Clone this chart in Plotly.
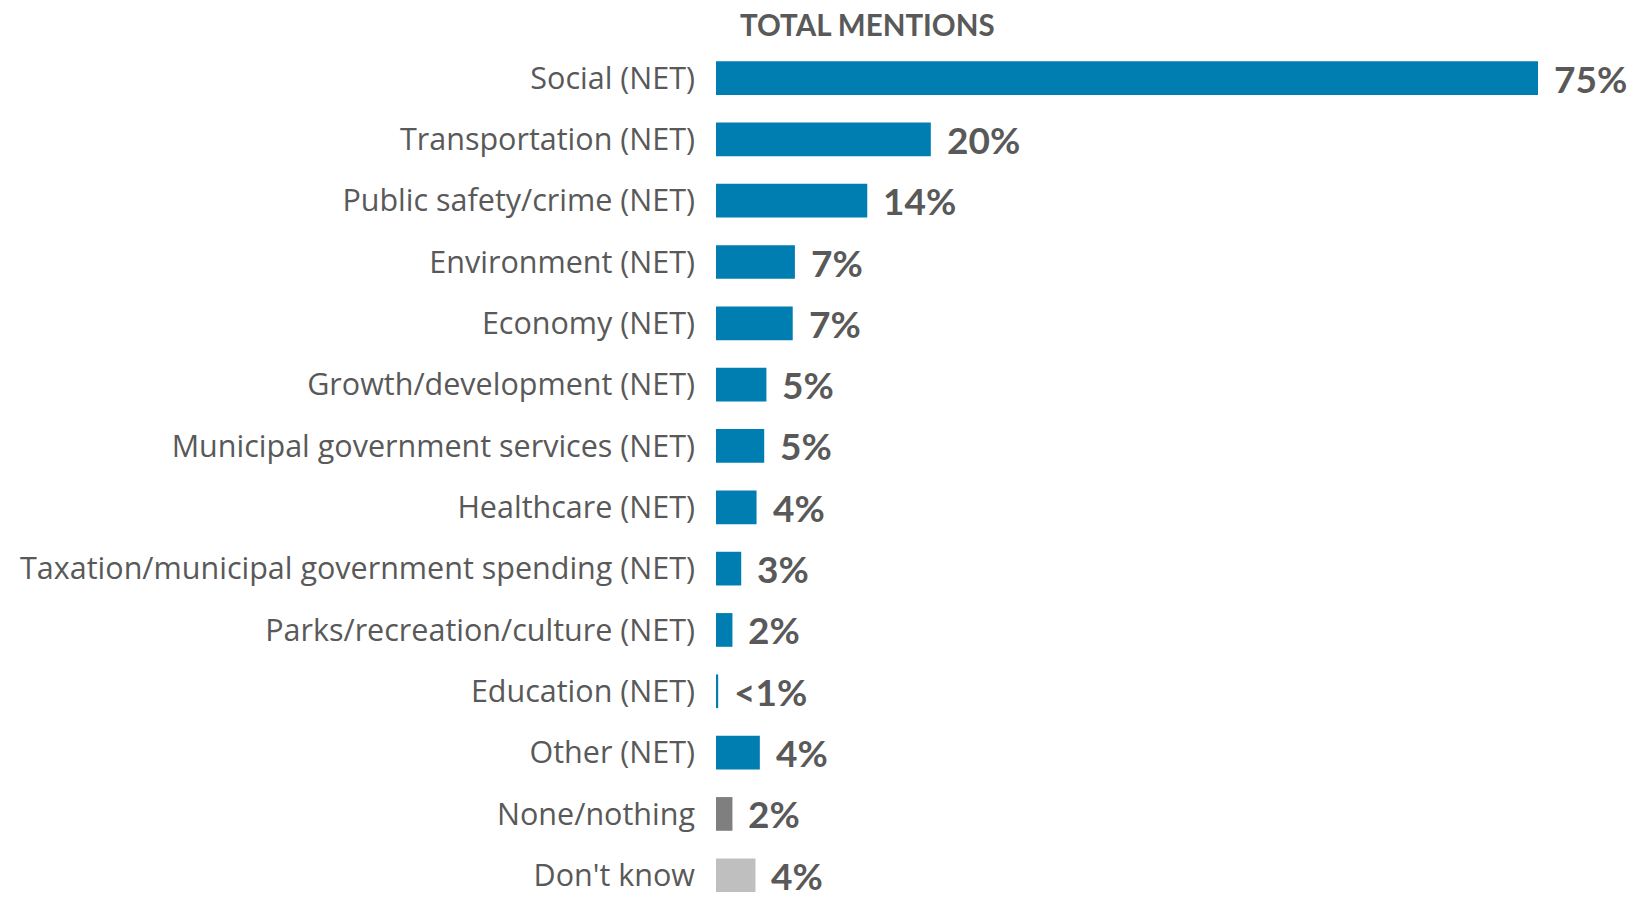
import plotly.graph_objects as go

categories = [
    "Social (NET)",
    "Transportation (NET)",
    "Public safety/crime (NET)",
    "Environment (NET)",
    "Economy (NET)",
    "Growth/development (NET)",
    "Municipal government services (NET)",
    "Healthcare (NET)",
    "Taxation/municipal government spending (NET)",
    "Parks/recreation/culture (NET)",
    "Education (NET)",
    "Other (NET)",
    "None/nothing",
    "Don't know",
]
values = [75.0, 19.6, 13.8, 7.2, 7.0, 4.6, 4.4, 3.7, 2.3, 1.5, 0.2, 4.0, 1.5, 3.6]
value_labels = ["75%", "20%", "14%", "7%", "7%", "5%", "5%", "4%", "3%", "2%", "<1%", "4%", "2%", "4%"]
bar_colors = ["#007EB2"] * 12 + ["#7F7F7F", "#BFBFBF"]

LABEL_FONT = "Open Sans"
VALUE_FONT = "Lato"
TEXT_COLOR = "#595959"

# page body has an 8px default margin; work in page coordinates minus 8
OFF = 8
W, H = 1651 - OFF, 901 - OFF
L, T = 716 - OFF, 47 - OFF

fig = go.Figure()
fig.add_trace(go.Bar(
    x=values,
    y=categories,
    orientation="h",
    marker=dict(color=bar_colors, line=dict(width=0)),
    width=0.55,
    hoverinfo="skip",
))

for cat, v, lab in zip(categories, values, value_labels):
    fig.add_annotation(
        x=v, y=cat, xref="x", yref="y", text=f"<b>{lab}</b>",
        showarrow=False, xanchor="left", yanchor="middle",
        xshift=14, yshift=0,
        font=dict(family=VALUE_FONT, size=37, color=TEXT_COLOR),
    )

fig.add_annotation(
    x=(867 - OFF - L) / (W - L), y=1 + (T - (24 - OFF)) / (H - T),
    xref="paper", yref="paper", xanchor="center", yanchor="middle",
    text="<b>TOTAL MENTIONS</b>",
    showarrow=False, font=dict(family=VALUE_FONT, size=29.5, color=TEXT_COLOR),
)

fig.update_layout(
    width=W, height=H,
    margin=dict(l=L, r=0, t=T, b=0),
    paper_bgcolor="white", plot_bgcolor="white",
    showlegend=False,
    xaxis=dict(range=[0, (W - L) / 10.96], visible=False, fixedrange=True),
    yaxis=dict(
        range=[13.42, -0.506],
        showgrid=False, zeroline=False, showline=False,
        ticks="", ticklabelstandoff=20,
        tickfont=dict(family=LABEL_FONT, size=30.5, color=TEXT_COLOR),
    ),
    font=dict(family=LABEL_FONT, color=TEXT_COLOR),
)

fig.write_html("out.html")
